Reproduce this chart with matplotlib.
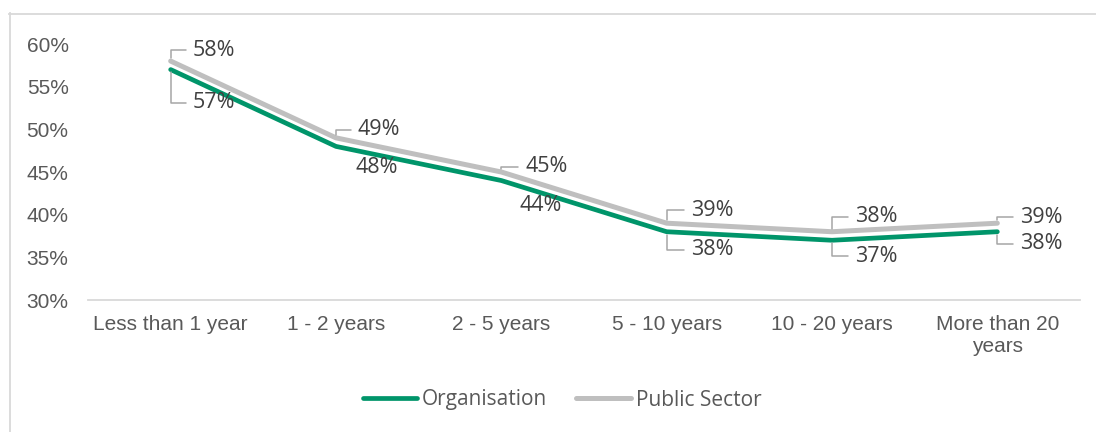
import matplotlib
matplotlib.use("Agg")
import matplotlib.pyplot as plt
from matplotlib.lines import Line2D

# Data
categories = ["Less than 1 year", "1 - 2 years", "2 - 5 years",
              "5 - 10 years", "10 - 20 years", "More than 20\nyears"]
organisation = [57, 48, 44, 38, 37, 38]
public_sector = [58, 49, 45, 39, 38, 39]
series_names = ["Organisation", "Public Sector"]
y_ticks = [30, 35, 40, 45, 50, 55, 60]

GREEN = "#00956A"
GREY = "#BFBFBF"
AXIS_TEXT = "#595959"
LABEL_TEXT = "#404040"
LEADER = "#A6A6A6"
BORDER = "#D9D9D9"

W, H = 1096, 432
fig = plt.figure(figsize=(W / 100, H / 100), dpi=100)
fig.patch.set_facecolor("white")

# plot area in pixel coordinates
left, right, top, bottom = 88, 1080, 44, 300
ax = fig.add_axes([left / W, 1 - bottom / H, (right - left) / W, (bottom - top) / H])

x = list(range(len(categories)))
ax.plot(x, organisation, color=GREEN, lw=3.4, solid_capstyle="round",
        solid_joinstyle="round", label=series_names[0], zorder=3)
ax.plot(x, public_sector, color=GREY, lw=3.6, solid_capstyle="round",
        solid_joinstyle="round", label=series_names[1], zorder=2)

ax.set_xlim(-0.5, len(categories) - 0.5)
ax.set_ylim(30, 60)
ax.set_yticks(y_ticks)
ax.set_yticklabels([f"{t}%" for t in y_ticks])
ax.set_xticks(x)
ax.set_xticklabels(categories, linespacing=1.2)

for s in ["top", "right", "left"]:
    ax.spines[s].set_visible(False)
ax.spines["bottom"].set_color(BORDER)
ax.spines["bottom"].set_linewidth(1.3)
ax.tick_params(axis="both", length=0, colors=AXIS_TEXT, labelsize=15)
ax.tick_params(axis="y", pad=14)
ax.tick_params(axis="x", pad=11)
for lab in ax.get_xticklabels() + ax.get_yticklabels():
    lab.set_fontfamily(["Liberation Sans", "DejaVu Sans"])

# data labels: (dx, dy) in pixels from the point, and whether a leader line is drawn
org_offsets = [(22, 33, True), (20, 21, False), (18, 25, False),
               (24, 18, True), (23, 16, True), (23, 12, True)]
pub_offsets = [(22, -11, True), (22, -8, True), (24, -5, True),
               (24, -13, True), (23, -15, True), (23, -6, True)]

def add_labels(values, offsets):
    for i, (v, (dx, dy, leader)) in enumerate(zip(values, offsets)):
        kw = {}
        if leader:
            kw["arrowprops"] = dict(arrowstyle="-", color=LEADER, lw=1.1,
                                    connectionstyle="angle,angleA=0,angleB=90,rad=0",
                                    relpos=(0, 0.5), shrinkA=3, shrinkB=2)
        ax.annotate(f"{v}%", xy=(i, v), xytext=(dx, -dy),
                    textcoords="offset pixels", ha="left", va="center",
                    fontsize=15.5, color=LABEL_TEXT,
                    family=["Open Sans", "DejaVu Sans"], zorder=5,
                    annotation_clip=False, **kw)

add_labels(organisation, org_offsets)
add_labels(public_sector, pub_offsets)

leg = fig.legend(loc="center", bbox_to_anchor=(562 / W, 1 - 400 / H), ncol=2,
                 frameon=False, handlelength=2.6, handletextpad=0.25,
                 columnspacing=1.4,
                 prop={"family": ["Open Sans", "DejaVu Sans"], "size": 15})
for t in leg.get_texts():
    t.set_color(AXIS_TEXT)
for h in leg.legend_handles:
    h.set_solid_capstyle("round")

# chart frame (left and top edges)
fig.add_artist(Line2D([9.5 / W, 9.5 / W], [0, 1 - 13 / H], transform=fig.transFigure,
                      color=BORDER, lw=1.3))
fig.add_artist(Line2D([9 / W, 1], [1 - 13.5 / H, 1 - 13.5 / H], transform=fig.transFigure,
                      color=BORDER, lw=1.3))

fig.savefig("out.png", dpi=100)
